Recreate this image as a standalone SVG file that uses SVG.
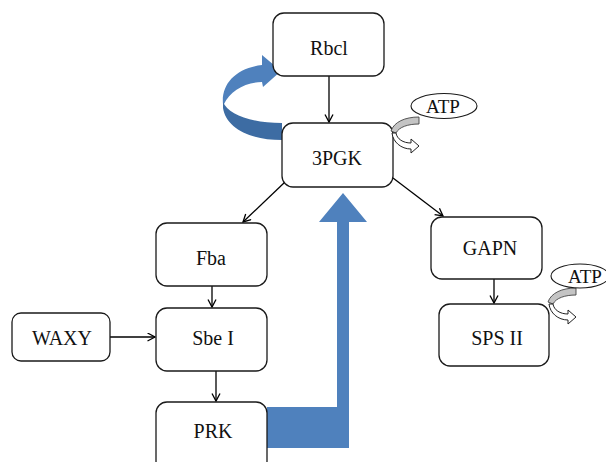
<svg xmlns="http://www.w3.org/2000/svg" width="606" height="462" viewBox="0 0 606 462">
  <defs>
    <style>
      .box { fill: #ffffff; stroke: #1a1a1a; stroke-width: 1.3; }
      .lbl { font-family: "Liberation Serif", "Times New Roman", serif; font-size: 20px; fill: #111; text-anchor: middle; }
      .atp { font-family: "Liberation Serif", "Times New Roman", serif; font-size: 19px; fill: #111; text-anchor: middle; }
      .edge { stroke: #000; stroke-width: 1.3; fill: none; }
      .oval { fill: #ffffff; stroke: #1a1a1a; stroke-width: 1.1; }
      .band { fill: #c4c4c4; stroke: #444; stroke-width: 0.9; }
      .hollow { fill: #ffffff; stroke: #222; stroke-width: 1; }
    </style>
    <marker id="open" markerWidth="10" markerHeight="10" refX="8" refY="4.5" orient="auto" markerUnits="userSpaceOnUse">
      <path d="M0.5,0.5 L8,4.5 L0.5,8.5" fill="none" stroke="#000" stroke-width="1.3"/>
    </marker>
    <!-- small energy-input glyph: grey band in, hollow arrow out -->
    <g id="atpFlow">
      <path class="band" d="M26,-14 L26,-7 C15,-7 6,-4 3,2 L-2,0 C1,-9 12,-14 26,-14 Z"/>
      <path class="hollow" d="M-1,2 C0,11 8,18 18,18 L18,22 L26,15 L18,8 L18,12 C10,12 4,8 3,2 Z"/>
    </g>
  </defs>

  <rect width="606" height="462" fill="#ffffff"/>

  <!-- circular recycling arrow -->
  <g id="cycle-arrow">
    <path d="M223,104 C221,84 236,68 262,65 L262,55 L281,71 L263,87 L262,82 C245,82 230,91 224,104 Z" fill="#4f81bd"/>
    <path d="M223,102 C228,114 250,123 282,123 L282,140 C250,140 226,128 223,108 Z" fill="#3d6ca3"/>
  </g>

  <!-- large L-shaped flow arrow from PRK -->
  <g id="prk-flow">
    <path d="M267,407 L337,407 L337,222 L319,222 L343,193 L367,222 L349,222 L349,448 L267,448 Z" fill="#4f81bd"/>
  </g>

  <g id="connectors">
    <line class="edge" x1="329" y1="76" x2="329" y2="122" marker-end="url(#open)"/>
    <line class="edge" x1="285" y1="182" x2="243" y2="222" marker-end="url(#open)"/>
    <line class="edge" x1="393" y1="178" x2="443" y2="216" marker-end="url(#open)"/>
    <line class="edge" x1="212" y1="286" x2="212" y2="307" marker-end="url(#open)"/>
    <line class="edge" x1="110" y1="337" x2="155" y2="337" marker-end="url(#open)"/>
    <line class="edge" x1="216" y1="371" x2="216" y2="401" marker-end="url(#open)"/>
    <line class="edge" x1="494" y1="279" x2="494" y2="303" marker-end="url(#open)"/>
  </g>

  <g id="node-rbcl">
    <rect class="box" x="273" y="13" width="111" height="63" rx="11"/>
    <text class="lbl" x="329" y="55">Rbcl</text>
  </g>
  <g id="node-3pgk">
    <rect class="box" x="282" y="123" width="111" height="64" rx="11"/>
    <text class="lbl" x="337" y="165">3PGK</text>
  </g>
  <g id="node-fba">
    <rect class="box" x="156" y="223" width="111" height="63" rx="11"/>
    <text class="lbl" x="211" y="265">Fba</text>
  </g>
  <g id="node-sbe1">
    <rect class="box" x="156" y="308" width="111" height="63" rx="11"/>
    <text class="lbl" x="213" y="345">Sbe I</text>
  </g>
  <g id="node-waxy">
    <rect class="box" x="12" y="313" width="98" height="48" rx="9"/>
    <text class="lbl" x="62" y="345">WAXY</text>
  </g>
  <g id="node-prk">
    <rect class="box" x="156" y="402" width="111" height="70" rx="11"/>
    <text class="lbl" x="213" y="438">PRK</text>
  </g>
  <g id="node-gapn">
    <rect class="box" x="431" y="217" width="111" height="62" rx="11"/>
    <text class="lbl" x="490" y="255">GAPN</text>
  </g>
  <g id="node-sps2">
    <rect class="box" x="439" y="304" width="110" height="62" rx="11"/>
    <text class="lbl" x="497" y="345">SPS II</text>
  </g>

  <g id="atp-1">
    <use href="#atpFlow" x="393" y="131"/>
    <ellipse class="oval" cx="444" cy="106" rx="33" ry="12.5"/>
    <text class="atp" x="443" y="113">ATP</text>
  </g>
  <g id="atp-2">
    <use href="#atpFlow" x="550" y="302"/>
    <ellipse class="oval" cx="580" cy="276" rx="29" ry="12"/>
    <text class="atp" x="585" y="283">ATP</text>
  </g>
</svg>
